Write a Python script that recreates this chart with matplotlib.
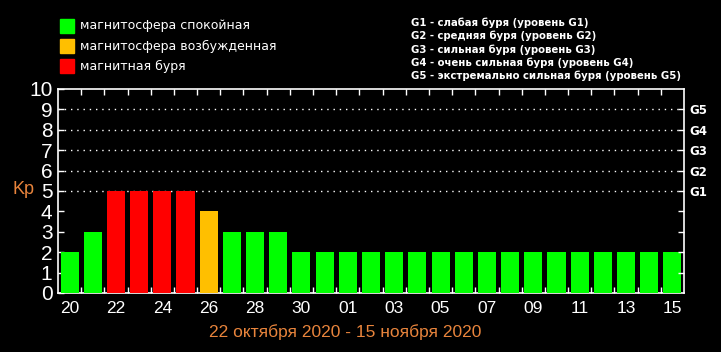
import matplotlib
matplotlib.use("Agg")
import matplotlib.pyplot as plt
from matplotlib.patches import Rectangle

# данные
days = ["20", "21", "22", "23", "24", "25", "26", "27", "28", "29", "30", "31",
        "01", "02", "03", "04", "05", "06", "07", "08", "09", "10", "11", "12",
        "13", "14", "15"]
kp = [2, 3, 5, 5, 5, 5, 4, 3, 3, 3, 2, 2, 2, 2, 2, 2, 2, 2, 2, 2, 2, 2, 2, 2, 2, 2, 2]
g_labels = ["G1", "G2", "G3", "G4", "G5"]
g_levels = [5, 6, 7, 8, 9]
legend_texts = ["магнитосфера спокойная", "магнитосфера возбужденная", "магнитная буря"]
g_texts = ["G1 - слабая буря (уровень G1)",
           "G2 - средняя буря (уровень G2)",
           "G3 - сильная буря (уровень G3)",
           "G4 - очень сильная буря (уровень G4)",
           "G5 - экстремально сильная буря (уровень G5)"]
date_range = "22 октября 2020 - 15 ноября 2020"

GREEN = "#00ff00"
ORANGE = "#ffbf00"
RED = "#ff0000"
KP_COL = "#e8843c"


def bar_color(v):
    if v >= 5:
        return RED
    if v == 4:
        return ORANGE
    return GREEN


W, H = 721, 352
fig = plt.figure(figsize=(W / 100, H / 100), dpi=100, facecolor="black")
ax = fig.add_axes([58 / W, (H - 293) / H, (684 - 58) / W, (293 - 89) / H])
ax.set_facecolor("black")

x = list(range(len(days)))
ax.bar(x, kp, width=0.78, color=[bar_color(v) for v in kp], zorder=3)
ax.set_xlim(-0.5, len(days) - 0.5)
ax.set_ylim(0, 10)

# пунктирная сетка
for lv in g_levels:
    ax.axhline(lv, color="white", lw=1, ls=(0, (1, 3.5)), zorder=1)

for s in ax.spines.values():
    s.set_color("white")
    s.set_linewidth(1.2)

num_font = ["Liberation Sans Narrow", "Liberation Sans", "DejaVu Sans"]

ax.set_xticks(x[::2])
ax.set_xticklabels(days[::2], color="white", fontsize=12.5, family=num_font)
ax.set_xticks([i + 0.5 for i in x[:-1]], minor=True)
ax.tick_params(axis="x", which="major", length=0, pad=6)
ax.tick_params(axis="x", which="minor", direction="in", length=4, color="white",
               top=True, bottom=True, width=1)

ax.set_yticks(range(11))
ax.set_yticklabels([str(i) for i in range(11)], color="white", fontsize=15,
                   family=["Liberation Sans", "DejaVu Sans"])
ax.tick_params(axis="y", direction="in", length=4, color="white", pad=4, width=1)

ax2 = ax.twinx()
ax2.set_ylim(0, 10)
ax2.set_yticks(range(1, 10))
ax2.set_yticklabels(["" if i not in g_levels else g_labels[g_levels.index(i)]
                     for i in range(1, 10)],
                    color="white", fontsize=8.5, fontweight="bold")
ax2.tick_params(axis="y", direction="in", length=4, color="white", pad=4, width=1)
for s in ax2.spines.values():
    s.set_visible(False)

fig.text(12 / W, 1 - 190 / H, "Kp", color=KP_COL, fontsize=13,
         family=["Liberation Sans", "DejaVu Sans"], va="center", ha="left")
fig.text(345 / W, 1 - 332 / H, date_range, color=KP_COL, fontsize=12.5,
         family=num_font, va="center", ha="center")

# легенда
for i, (txt, col) in enumerate(zip(legend_texts, [GREEN, ORANGE, RED])):
    yc = 26 + i * 20
    fig.patches.append(Rectangle((60 / W, 1 - (yc + 7) / H), 14 / W, 14 / H,
                                 transform=fig.transFigure, color=col, figure=fig))
    fig.text(80 / W, 1 - yc / H, txt, color="white", fontsize=9,
             va="center", ha="left")

for i, txt in enumerate(g_texts):
    yc = 23 + i * 13.2
    fig.text(411 / W, 1 - yc / H, txt, color="white", fontsize=7.3,
             fontweight="bold", va="center", ha="left")

fig.savefig("out.png", dpi=100, facecolor="black")
